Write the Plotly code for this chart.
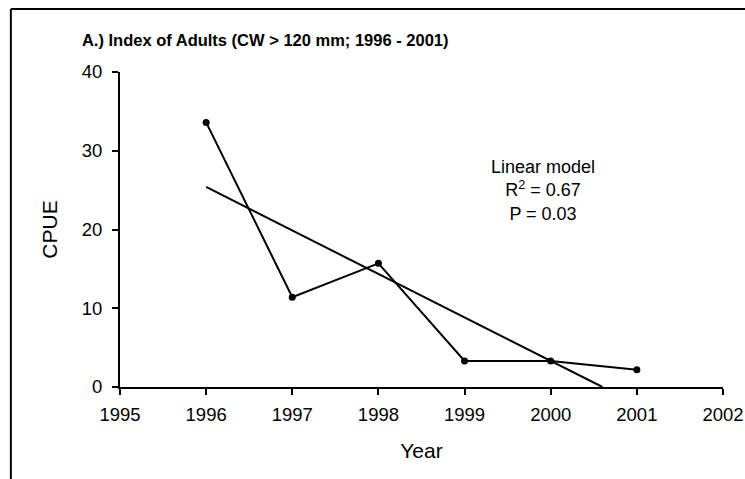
import plotly.graph_objects as go

years = [1996, 1997, 1998, 1999, 2000, 2001]
cpue = [33.6, 11.4, 15.7, 3.3, 3.3, 2.2]

# fitted linear model (clipped at zero)
trend_years = [1996, 2000.6]
trend_cpue = [25.4, 0]

x_ticks = [1995, 1996, 1997, 1998, 1999, 2000, 2001, 2002]
y_ticks = [0, 10, 20, 30, 40]

font = "Liberation Sans, Arial, Helvetica, sans-serif"

fig = go.Figure()
fig.add_trace(go.Scatter(
    x=years, y=cpue, mode="lines+markers",
    line=dict(color="black", width=2),
    marker=dict(color="black", size=7),
    cliponaxis=False, showlegend=False
))
fig.add_trace(go.Scatter(
    x=trend_years, y=trend_cpue, mode="lines",
    line=dict(color="black", width=2),
    showlegend=False
))

# outer frame: only the left and top edges show in the picture
frame = dict(color="black", width=2)

fig.update_layout(
    width=745, height=479,
    margin=dict(l=120, r=22, t=72, b=92, autoexpand=False),
    plot_bgcolor="white", paper_bgcolor="white",
    font=dict(family=font, color="black", size=18.5),
    title=dict(
        text="<b>A.) Index of Adults (CW > 120 mm; 1996 - 2001)</b>",
        x=0.356, xanchor="center", y=0.916, yanchor="middle",
        font=dict(family="Liberation Sans Narrow, " + font, size=16.5)
    ),
    xaxis=dict(
        range=[1995, 2002], tickvals=x_ticks, showgrid=False, zeroline=False,
        showline=True, linecolor="black", linewidth=2, automargin=False,
        ticks="outside", ticklen=6, tickwidth=2, tickcolor="black",
        ticklabelstandoff=4,
        title=dict(text="Year", font=dict(size=21), standoff=19)
    ),
    yaxis=dict(
        range=[0, 40], tickvals=y_ticks, showgrid=False, zeroline=False,
        showline=True, linecolor="black", linewidth=2, automargin=False,
        ticks="outside", ticklen=6, tickwidth=2, tickcolor="black",
        ticklabelstandoff=6,
        title=dict(text="CPUE", font=dict(size=21), standoff=18)
    ),
    annotations=[dict(
        x=1999.91, y=25.0, xref="x", yref="y", showarrow=False,
        text="Linear model<br>R<sup>2</sup> = 0.67<br>P = 0.03",
        align="center", font=dict(size=18)
    )],
    shapes=[
        dict(type="line", xref="paper", yref="paper",
             x0=-0.181, x1=-0.181, y0=-0.5, y1=1.2, line=frame),
        dict(type="line", xref="paper", yref="paper",
             x0=-0.181, x1=1.1, y0=1.2, y1=1.2, line=frame),
    ]
)

fig.write_html("out.html", config={"displayModeBar": False},
               post_script="document.body.style.margin='0';")
